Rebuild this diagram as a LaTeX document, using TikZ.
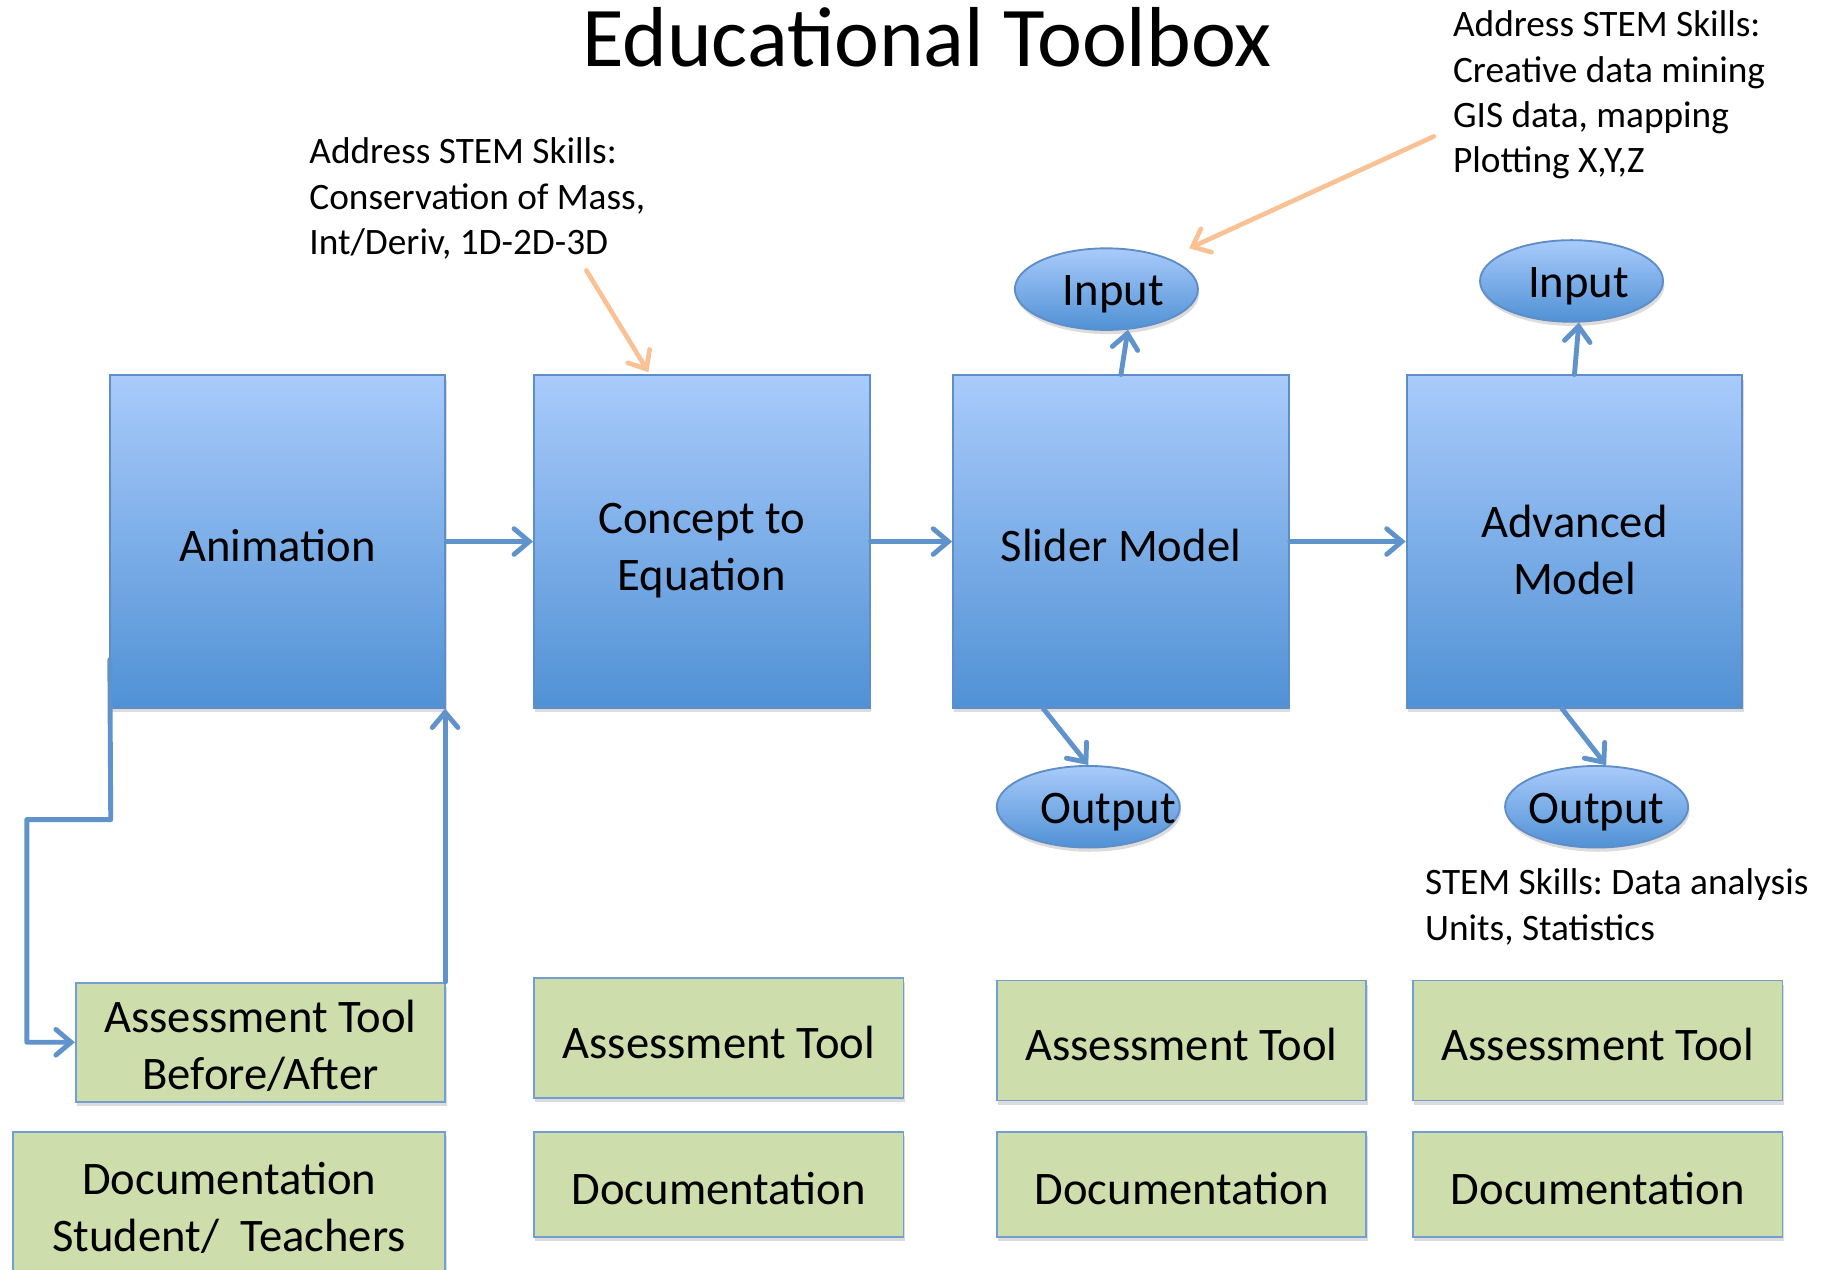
\documentclass[tikz,border=0pt]{standalone}
\usepackage{fontspec}
\setmainfont{Carlito}
\frenchspacing
\usetikzlibrary{arrows.meta,shadows,calc,shapes.geometric}
\definecolor{boxtop}{RGB}{169,203,251}
\definecolor{boxbot}{RGB}{80,145,213}
\definecolor{boxline}{RGB}{95,141,200}
\definecolor{greenfill}{RGB}{205,221,172}
\definecolor{greenline}{RGB}{115,158,212}
\definecolor{connblue}{RGB}{96,146,204}
\definecolor{orangeline}{RGB}{250,194,148}
\newcommand{\topstrut}[1]{\rule{0pt}{#1}}
\begin{document}
\begin{tikzpicture}[x=0.5pt,y=-0.5pt,
  shadowed/.style={drop shadow={shadow xshift=0.6pt, shadow yshift=-1.8pt, opacity=0.28}},
  bigtext/.style={font=\fontsize{20}{24.5}\selectfont, execute at begin node={\rule{0pt}{17.5pt}}},
  bluebox/.style={rectangle, draw=boxline, line width=0.8pt, top color=boxtop, bottom color=boxbot,
    minimum width=144pt, minimum height=142.5pt, inner sep=0pt, align=center, bigtext, shadowed},
  blueoval/.style={ellipse, draw=boxline, line width=0.8pt, top color=boxtop, bottom color=boxbot,
    minimum width=78.5pt, minimum height=35pt, inner sep=0pt, bigtext, shadowed},
  greenbox/.style={rectangle, draw=greenline, line width=0.8pt, fill=greenfill,
    minimum width=158.5pt, inner sep=0pt, align=center, bigtext, shadowed},
  note/.style={anchor=north west, inner sep=0pt, align=left, font=\fontsize{16}{19.4}\selectfont},
  conn/.style={draw=connblue, line width=2.1pt, line cap=round, line join=round,
    -{Straight Barb[length=6.5pt,width=11pt,line cap=round]}},
  orconn/.style={draw=orangeline, line width=2pt, line cap=round,
    -{Straight Barb[length=6.5pt,width=11pt,line cap=round]}}
]
\useasboundingbox (0,0) rectangle (1568,1088.5);

% title
\node[anchor=base, inner sep=0pt, font=\fontsize{36.5}{40}\selectfont] (title) at (795,57) {Educational Toolbox};

% annotations
\node[note] (note1) at (265,118) {Address STEM Skills:\\Conservation of Mass,\\Int/Deriv, 1D-2D-3D};
\node[note] (note2) at (1246,9) {Address STEM Skills:\\Creative data mining\\GIS data, mapping\\Plotting X,Y,Z};
\node[note] (note3) at (1222,745) {STEM Skills: Data analysis\\Units, Statistics};

% main boxes
\node[bluebox] (anim) at (238,464.5) {Animation};
\node[bluebox] (concept) at (602,464.5) {\topstrut{21pt}Concept to\\Equation};
\node[bluebox] (slider) at (961.5,464.5) {Slider Model};
\node[bluebox] (adv) at (1350.5,464.5) {\topstrut{21pt}Advanced\\Model};

% ellipses
\node[blueoval] (in1) at (949,248) {\makebox[0pt]{\hspace*{6pt}Input}};
\node[blueoval] (in2) at (1348,241) {\makebox[0pt]{\hspace*{6pt}Input}};
\node[blueoval] (out1) at (933.5,692) {\makebox[0pt]{\hspace*{17pt}Output}};
\node[blueoval] (out2) at (1369.5,692) {\makebox[0pt]{Output}};

% green boxes
\node[greenbox, minimum height=51pt] (at1) at (223.5,894) {\topstrut{17pt}Assessment Tool\\Before/After};
\node[greenbox, minimum height=51.5pt] (at2) at (616.5,890.5) {Assessment Tool};
\node[greenbox, minimum height=51.5pt] (at3) at (1013.5,892.5) {Assessment Tool};
\node[greenbox, minimum height=51.5pt] (at4) at (1370.5,892.5) {Assessment Tool};
\node[greenbox, minimum width=185.5pt, minimum height=65pt] (doc1) at (196.5,1036) {Documentation\\Student/\ \ Teachers};
\node[greenbox, minimum height=45pt] (doc2) at (616.5,1016) {Documentation};
\node[greenbox, minimum height=45pt] (doc3) at (1013.5,1016) {Documentation};
\node[greenbox, minimum height=45pt] (doc4) at (1370.5,1016) {Documentation};

% flow connectors
\draw[conn] (anim.east) -- (concept.west);
\draw[conn] (concept.east) -- (slider.west);
\draw[conn] (slider.east) -- (adv.west);
\draw[conn] (slider.north) -- (in1.-62);
\draw[conn] (adv.north) -- (in2.-80);
\draw[conn] ($(slider.south west)!0.27!(slider.south east)$) -- (out1.north);
\draw[conn] ($(adv.south west)!0.463!(adv.south east)$) -- (out2.77);

% feedback loop
\coordinate (fbA) at (95,703);
\coordinate (fbB) at (23,703);
\draw[conn] ($(anim.south west)+(1,-42)$) -- (fbA) -- (fbB) |- (at1.west);
\draw[conn] ($(at1.north east)+(-1,0)$) -- ($(anim.south east)+(-1,0)$);

% orange pointers
\coordinate (or1) at (503,232);
\coordinate (or2) at (1230,117);
\draw[orconn] (or1) -- ($(concept.north west)+(99,-2)$);
\draw[orconn] (or2) -- ($(in1.center)+(71,-35)$);
\end{tikzpicture}
\end{document}
